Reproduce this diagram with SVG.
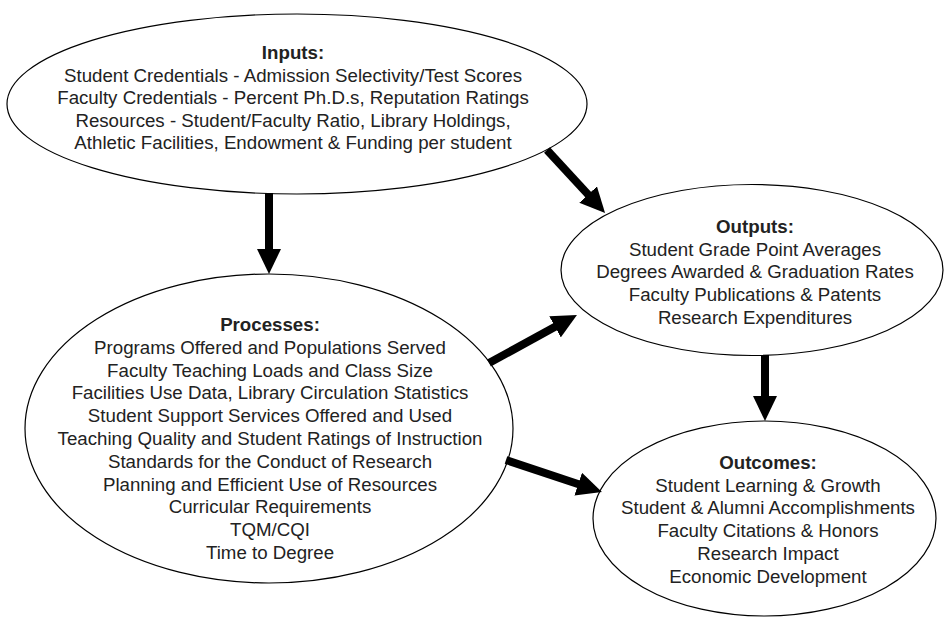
<svg xmlns="http://www.w3.org/2000/svg" width="945" height="617" viewBox="0 0 945 617">
<style>
.node ellipse{fill:#fff;stroke:#000;stroke-width:1.2}
.node text{font-family:"Liberation Sans",Arial,sans-serif;font-size:18.7px;fill:#222;text-anchor:middle}
.node text.h{font-weight:bold}
.conn line{stroke:#000;stroke-width:8;fill:none;marker-end:url(#ah)}
</style>
<defs>
<marker id="ah" viewBox="0 0 25 24" refX="10" refY="12" markerWidth="25" markerHeight="24" markerUnits="userSpaceOnUse" orient="auto">
<path d="M0,0 L25,12 L0,24 Z" fill="#000"/>
</marker>
</defs>
<rect width="945" height="617" fill="#fff"/>
<g id="inputs" class="node">
<ellipse cx="297" cy="104" rx="290" ry="90"/>
<text x="293" y="59" class="h">Inputs:</text>
<text x="293" y="81.5">Student Credentials - Admission Selectivity/Test Scores</text>
<text x="293" y="104">Faculty Credentials - Percent Ph.D.s, Reputation Ratings</text>
<text x="293" y="126.5">Resources - Student/Faculty Ratio, Library Holdings,</text>
<text x="293" y="149">Athletic Facilities, Endowment &amp; Funding per student</text>
</g>
<g id="processes" class="node">
<ellipse cx="269" cy="428.5" rx="244" ry="154.5"/>
<text x="270" y="331" class="h">Processes:</text>
<text x="270" y="353.8">Programs Offered and Populations Served</text>
<text x="270" y="376.6">Faculty Teaching Loads and Class Size</text>
<text x="270" y="399.4">Facilities Use Data, Library Circulation Statistics</text>
<text x="270" y="422.2">Student Support Services Offered and Used</text>
<text x="270" y="445">Teaching Quality and Student Ratings of Instruction</text>
<text x="270" y="467.8">Standards for the Conduct of Research</text>
<text x="270" y="490.6">Planning and Efficient Use of Resources</text>
<text x="270" y="513.4">Curricular Requirements</text>
<text x="270" y="536.2">TQM/CQI</text>
<text x="270" y="559">Time to Degree</text>
</g>
<g id="outputs" class="node">
<ellipse cx="752" cy="270" rx="191" ry="85.5"/>
<text x="755" y="233" class="h">Outputs:</text>
<text x="755" y="255.7">Student Grade Point Averages</text>
<text x="755" y="278.4">Degrees Awarded &amp; Graduation Rates</text>
<text x="755" y="301.1">Faculty Publications &amp; Patents</text>
<text x="755" y="323.8">Research Expenditures</text>
</g>
<g id="outcomes" class="node">
<ellipse cx="764.5" cy="518.5" rx="171.5" ry="97.5"/>
<text x="768" y="469" class="h">Outcomes:</text>
<text x="768" y="491.7">Student Learning &amp; Growth</text>
<text x="768" y="514.4">Student &amp; Alumni Accomplishments</text>
<text x="768" y="537.1">Faculty Citations &amp; Honors</text>
<text x="768" y="559.8">Research Impact</text>
<text x="768" y="582.5">Economic Development</text>
</g>
<g id="connectors" class="conn">
<line x1="269" y1="193" x2="269" y2="259"/>
<line x1="547" y1="150" x2="594.9" y2="201.9"/>
<line x1="489" y1="363" x2="563.8" y2="322.1"/>
<line x1="506" y1="460" x2="587.7" y2="487.3"/>
<line x1="765" y1="355" x2="765" y2="406"/>
</g>
</svg>
